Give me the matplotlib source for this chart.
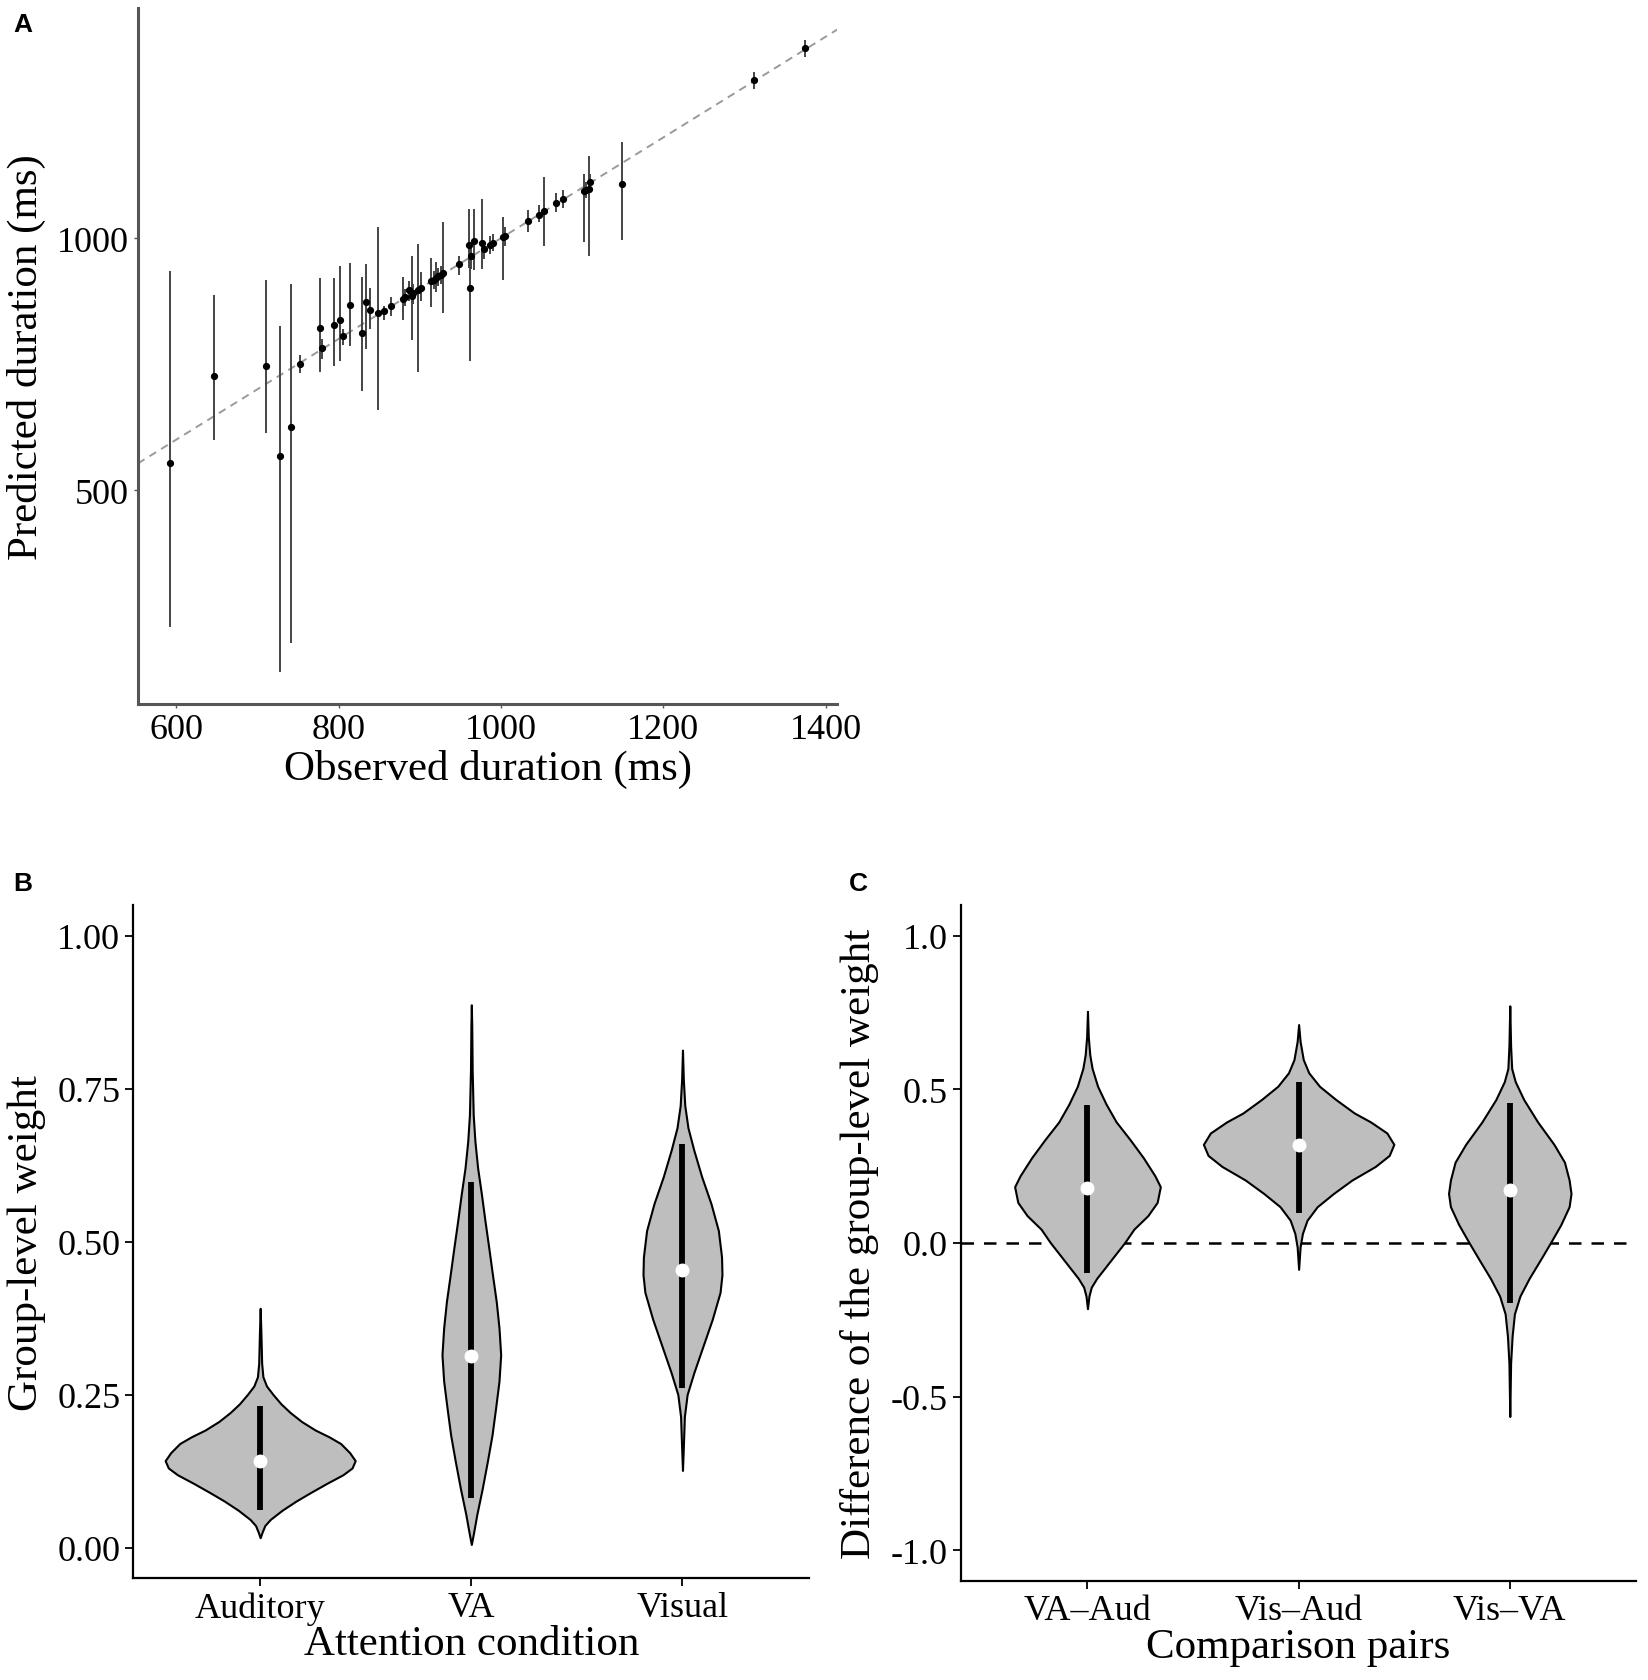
import matplotlib
matplotlib.use("Agg")
import matplotlib.pyplot as plt
import numpy as np

# ---------------- Panel A data ----------------
obs = [592, 646, 711, 728, 741, 753, 777, 779, 794, 802, 805, 814, 829, 834, 839,
       848, 856, 864, 879, 882, 887, 890, 892, 898, 902, 914, 917, 920, 923, 926,
       928, 948, 961, 962, 963, 967, 977, 979, 987, 990, 1003, 1005, 1033, 1047,
       1053, 1068, 1077, 1102, 1105, 1108, 1110, 1149, 1312, 1375]
pred = [553, 727, 747, 568, 626, 751, 821, 782, 827, 837, 806, 867, 812, 874, 858,
        852, 855, 865, 880, 883, 898, 886, 891, 898, 901, 914, 917, 921, 924, 927,
        930, 948, 987, 902, 964, 994, 990, 978, 987, 991, 1003, 1005, 1034, 1047,
        1054, 1069, 1078, 1094, 1096, 1097, 1111, 1107, 1315, 1377]
pred_lo = [229, 600, 613, 138, 197, 733, 735, 760, 746, 757, 787, 785, 696, 780, 820,
           658, 837, 846, 837, 865, 875, 797, 870, 734, 876, 863, 900, 893, 905, 910,
           852, 926, 940, 757, 939, 936, 939, 959, 969, 975, 916, 985, 1013, 1032,
           985, 1052, 1060, 993, 1080, 964, 1101, 997, 1296, 1360]
pred_hi = [934, 888, 916, 825, 909, 769, 921, 800, 921, 944, 820, 951, 923, 949, 901,
           1022, 866, 883, 923, 900, 915, 964, 910, 989, 932, 960, 935, 952, 940, 945,
           1033, 965, 1058, 990, 985, 1057, 1078, 985, 1005, 1008, 1042, 1022, 1055, 1065,
           1122, 1089, 1096, 1128, 1112, 1164, 1128, 1190, 1330, 1394]
ref_intercept = 0.0
ref_slope = 1.0

# ---------------- Panel B data ----------------
b_labels = ["Auditory", "VA", "Visual"]
aud_y = [0.391, 0.344, 0.301, 0.279, 0.264, 0.250, 0.235, 0.221, 0.206, 0.192, 0.181, 0.170,
         0.155, 0.142, 0.130, 0.119, 0.105, 0.090, 0.076, 0.061, 0.046, 0.036, 0.025, 0.016]
aud_w = [0.000, 0.004, 0.007, 0.013, 0.030, 0.061, 0.098, 0.141, 0.196, 0.261, 0.326, 0.381,
         0.424, 0.450, 0.435, 0.392, 0.316, 0.239, 0.170, 0.104, 0.048, 0.022, 0.009, 0.000]
va_y = [0.887, 0.853, 0.780, 0.707, 0.664, 0.620, 0.577, 0.533, 0.489, 0.446, 0.402, 0.359,
        0.315, 0.272, 0.228, 0.184, 0.141, 0.097, 0.054, 0.025, 0.005]
va_w = [0.000, 0.002, 0.004, 0.009, 0.017, 0.030, 0.048, 0.065, 0.083, 0.100, 0.118, 0.131,
        0.139, 0.131, 0.115, 0.098, 0.076, 0.052, 0.026, 0.011, 0.000]
vis_y = [0.813, 0.765, 0.722, 0.686, 0.649, 0.606, 0.562, 0.518, 0.475, 0.446, 0.417, 0.373,
         0.330, 0.286, 0.250, 0.214, 0.163, 0.126]
vis_w = [0.000, 0.004, 0.011, 0.026, 0.054, 0.091, 0.135, 0.170, 0.185, 0.187, 0.178, 0.141,
         0.098, 0.054, 0.022, 0.009, 0.004, 0.000]
b_median = [0.141, 0.313, 0.453]
b_lo = [0.062, 0.081, 0.261]
b_hi = [0.232, 0.597, 0.660]

# ---------------- Panel C data ----------------
c_labels = ["VA\u2013Aud", "Vis\u2013Aud", "Vis\u2013VA"]
vaaud_y = [0.754, 0.670, 0.612, 0.568, 0.510, 0.452, 0.394, 0.336, 0.278, 0.219, 0.183, 0.132,
           0.089, 0.045, 0.001, -0.042, -0.086, -0.115, -0.144, -0.173, -0.214]
vaaud_w = [0.000, 0.004, 0.011, 0.022, 0.048, 0.088, 0.136, 0.202, 0.264, 0.319, 0.345, 0.330,
           0.286, 0.220, 0.176, 0.127, 0.077, 0.044, 0.018, 0.007, 0.000]
visaud_y = [0.711, 0.656, 0.597, 0.554, 0.510, 0.467, 0.423, 0.394, 0.358, 0.321, 0.285, 0.249,
            0.205, 0.161, 0.118, 0.074, 0.031, -0.013, -0.086]
visaud_w = [0.000, 0.007, 0.022, 0.048, 0.099, 0.176, 0.264, 0.341, 0.418, 0.451, 0.429, 0.363,
            0.253, 0.165, 0.088, 0.040, 0.018, 0.007, 0.000]
visva_y = [0.772, 0.641, 0.568, 0.525, 0.467, 0.394, 0.321, 0.263, 0.205, 0.161, 0.118, 0.060,
           0.001, -0.057, -0.115, -0.173, -0.231, -0.304, -0.391, -0.565]
visva_w = [0.000, 0.004, 0.009, 0.026, 0.066, 0.132, 0.209, 0.259, 0.281, 0.290, 0.281, 0.242,
           0.193, 0.143, 0.092, 0.048, 0.022, 0.011, 0.004, 0.000]
c_median = [0.180, 0.318, 0.173]
c_lo = [-0.097, 0.096, -0.195]
c_hi = [0.449, 0.525, 0.455]

# ---------------- Figure ----------------
serif = ["Liberation Serif", "DejaVu Serif"]
plt.rcParams["font.family"] = serif
W, H = 1648, 1681
fig = plt.figure(figsize=(W / 100, H / 100), dpi=100)

TICK_FS = 26
LAB_FS = 31

def frac(l, b, r, t):
    return [l, b, r - l, t - b]

def padded(lo, hi, m=0.05):
    span = hi - lo
    return lo - m * span, hi + m * span

# Panel A
axA = fig.add_axes(frac(0.0837, 0.5806, 0.508, 0.9946))
pred_a = np.array(pred)
axA.errorbar(obs, pred, yerr=[pred_a - np.array(pred_lo), np.array(pred_hi) - pred_a],
             fmt="o", color="black", ecolor="#444444", elinewidth=1.4, markersize=4.2, capsize=0, zorder=3)
axA.axline((0, ref_intercept), slope=ref_slope, color="#9a9a9a", lw=1.4, ls=(0, (4, 3)), zorder=1)
axA.set_xlim(*padded(min(obs), max(obs)))
axA.set_ylim(*padded(min(pred_lo), max(pred_hi)))
axA.set_xticks([600, 800, 1000, 1200, 1400])
axA.set_yticks([500, 1000])
for s in ["top", "right"]:
    axA.spines[s].set_visible(False)
for s in ["left", "bottom"]:
    axA.spines[s].set_color("#555555")
    axA.spines[s].set_linewidth(2.2)
axA.tick_params(axis="both", labelsize=TICK_FS, length=3, width=1, colors="#555555", labelcolor="black")
axA.set_xlabel("Observed duration (ms)", fontsize=LAB_FS, labelpad=2)
axA.set_ylabel("Predicted duration (ms)", fontsize=LAB_FS, labelpad=8)

def style_bc(ax):
    for s in ["top", "right"]:
        ax.spines[s].set_visible(False)
    for s in ["left", "bottom"]:
        ax.spines[s].set_color("black")
        ax.spines[s].set_linewidth(1.6)
    ax.tick_params(axis="both", labelsize=TICK_FS, length=6, width=1.3, color="black")
    ax.set_xlim(0.4, 3.6)

def draw_violin(ax, pos, ys, ws):
    ys = np.asarray(ys)
    ws = np.asarray(ws)
    ax.fill_betweenx(ys, pos - ws, pos + ws, facecolor="#bebebe", edgecolor="black", lw=1.5, zorder=2)

xpos = np.arange(1, 4)

# Panel B
axB = fig.add_axes(frac(0.081, 0.0606, 0.491, 0.461))
style_bc(axB)
for i, (ys, ws) in enumerate([(aud_y, aud_w), (va_y, va_w), (vis_y, vis_w)]):
    draw_violin(axB, i + 1, ys, ws)
axB.vlines(xpos, b_lo, b_hi, color="black", lw=4.2, zorder=3)
axB.plot(xpos, b_median, "o", color="white", markersize=9, zorder=4)
axB.set_ylim(-0.05, 1.05)
axB.set_yticks([0, 0.25, 0.5, 0.75, 1.0])
axB.set_yticklabels(["0.00", "0.25", "0.50", "0.75", "1.00"])
axB.set_xticks(xpos)
axB.set_xticklabels(b_labels)
axB.set_xlabel("Attention condition", fontsize=LAB_FS, labelpad=0)
axB.set_ylabel("Group-level weight", fontsize=LAB_FS, labelpad=8)

# Panel C
axC = fig.add_axes(frac(0.583, 0.059, 0.993, 0.461))
style_bc(axC)
for i, (ys, ws) in enumerate([(vaaud_y, vaaud_w), (visaud_y, visaud_w), (visva_y, visva_w)]):
    draw_violin(axC, i + 1, ys, ws)
axC.axhline(0, color="black", lw=1.8, ls=(0, (5, 4)), zorder=1.5)
axC.vlines(xpos, c_lo, c_hi, color="black", lw=4.2, zorder=3)
axC.plot(xpos, c_median, "o", color="white", markersize=9, zorder=4)
axC.set_ylim(-1.1, 1.1)
axC.set_yticks([-1.0, -0.5, 0.0, 0.5, 1.0])
axC.set_yticklabels(["-1.0", "-0.5", "0.0", "0.5", "1.0"])
axC.set_xticks(xpos)
axC.set_xticklabels(c_labels)
axC.set_xlabel("Comparison pairs", fontsize=LAB_FS, labelpad=0)
axC.set_ylabel("Difference of the group-level weight", fontsize=LAB_FS, labelpad=8)

# Panel letters
sans = ["Liberation Sans", "DejaVu Sans"]
fig.text(0.008, 0.985, "A", fontsize=19, fontweight="bold", family=sans, va="center")
fig.text(0.008, 0.474, "B", fontsize=19, fontweight="bold", family=sans, va="center")
fig.text(0.515, 0.474, "C", fontsize=19, fontweight="bold", family=sans, va="center")

fig.savefig("out.png", dpi=100, facecolor="white")
